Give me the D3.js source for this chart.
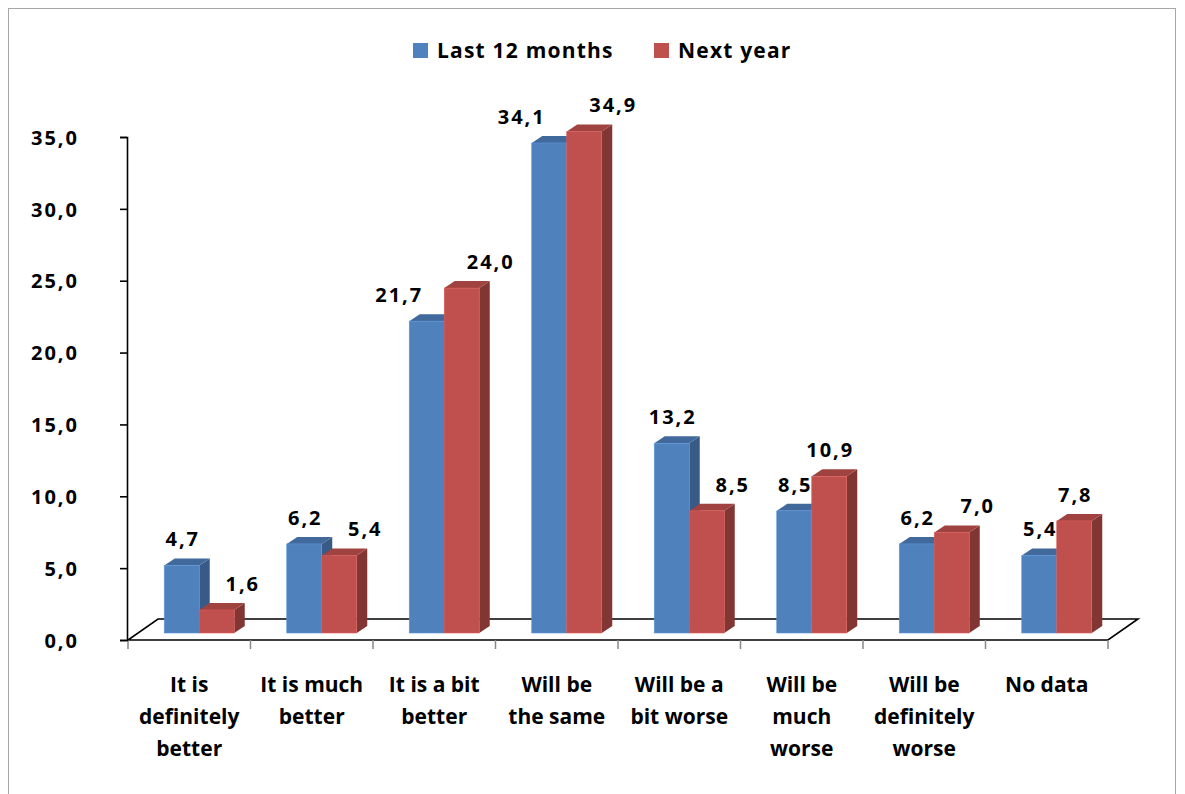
<!DOCTYPE html>
<html>
<head>
<meta charset="utf-8">
<script src="https://cdn.jsdelivr.net/npm/d3@7/dist/d3.min.js"></script>
<style>
  html, body { margin: 0; padding: 0; background: #fff; }
  svg text { font-family: "Open Sans", "DejaVu Sans", sans-serif; font-weight: 700; fill: #000; }
</style>
</head>
<body>
<svg id="chart" width="1185" height="794"></svg>
<script>
// Answers per category, in percent
const categories = [
  "It is\ndefinitely\nbetter",
  "It is much\nbetter",
  "It is a bit\nbetter",
  "Will be\nthe same",
  "Will be a\nbit worse",
  "Will be\nmuch\nworse",
  "Will be\ndefinitely\nworse",
  "No data"
];
const seriesNames = ["Last 12 months", "Next year"];
const last12Months = [4.7, 6.2, 21.7, 34.1, 13.2, 8.5, 6.2, 5.4];
const nextYear     = [1.6, 5.4, 24.0, 34.9, 8.5, 10.9, 7.0, 7.8];
const yTicks = [0, 5, 10, 15, 20, 25, 30, 35];

const palette = [
  { front: "#4F81BD", top: "#41699C", side: "#385A86" },
  { front: "#C0504D", top: "#A0423F", side: "#823634" }
];

const fmt = v => d3.format(".1f")(v).replace(".", ",");

const svg = d3.select("#chart");

// outer chart frame
svg.append("rect")
  .attr("x", 8.5).attr("y", 8.5)
  .attr("width", 1167).attr("height", 800)
  .attr("fill", "none").attr("stroke", "#a6a6a6").attr("stroke-width", 1);

// plot geometry: front floor edge and oblique depth
const x0 = 128, x1 = 1108, yBase = 640, yTop = 137;
const floorDepth = { dx: 30, dy: -21 };
const barFront = { dx: floorDepth.dx / 3, dy: floorDepth.dy / 3 };   // bars start a third of the way back
const barDepth = { dx: floorDepth.dx / 3 + 0.5, dy: floorDepth.dy / 3 };

const x = d3.scaleBand().domain(d3.range(categories.length)).range([x0, x1]).padding(0);
const y = d3.scaleLinear().domain([0, 35]).range([yBase, yTop]);
const barW = 35;

// floor (oblique parallelogram)
const floor = [
  [x0, yBase], [x1, yBase],
  [x1 + floorDepth.dx, yBase + floorDepth.dy],
  [x0 + floorDepth.dx, yBase + floorDepth.dy]
];
svg.append("polygon")
  .attr("points", floor.map(p => p.join(",")).join(" "))
  .attr("fill", "#fff").attr("stroke", "#000").attr("stroke-width", 1.6)
  .attr("stroke-linejoin", "miter");

// category axis ticks
const catTicks = d3.range(categories.length + 1).map(i => x0 + i * x.bandwidth());
svg.append("g").selectAll("line").data(catTicks).join("line")
  .attr("x1", d => d).attr("x2", d => d)
  .attr("y1", yBase).attr("y2", yBase + 9)
  .attr("stroke", "#888").attr("stroke-width", 1.5);

// value axis
const yAxis = d3.axisLeft(y).tickValues(yTicks).tickFormat(fmt).tickSize(7).tickPadding(41);
const gy = svg.append("g").attr("transform", `translate(${x0 - 1},0)`).call(yAxis);
gy.select(".domain").attr("stroke", "#000").attr("stroke-width", 1.6);
gy.selectAll(".tick line").attr("stroke", "#000").attr("stroke-width", 1.6);
gy.selectAll(".tick text")
  .attr("font-size", 20).attr("font-family", null).attr("fill", "#000")
  .attr("letter-spacing", 2)
  .attr("dy", "0.36em");

// bars
const data = [];
categories.forEach((c, i) => {
  [last12Months[i], nextYear[i]].forEach((v, s) => {
    const fl = x(i) + x.bandwidth() / 2 - barW + s * barW + barFront.dx;
    const ft = y(v) + barFront.dy;
    const fb = yBase + barFront.dy;
    data.push({ i, s, v, fl, fr: fl + barW, ft, fb });
  });
});

const bars = svg.append("g").selectAll("g").data(data).join("g");
// side face
bars.append("polygon")
  .attr("points", d => [
    [d.fr, d.fb], [d.fr, d.ft],
    [d.fr + barDepth.dx, d.ft + barDepth.dy],
    [d.fr + barDepth.dx, d.fb + barDepth.dy]
  ].map(p => p.join(",")).join(" "))
  .attr("fill", d => palette[d.s].side);
// top face
bars.append("polygon")
  .attr("points", d => [
    [d.fl, d.ft], [d.fr, d.ft],
    [d.fr + barDepth.dx, d.ft + barDepth.dy],
    [d.fl + barDepth.dx, d.ft + barDepth.dy]
  ].map(p => p.join(",")).join(" "))
  .attr("fill", d => palette[d.s].top);
// front face
bars.append("rect")
  .attr("x", d => d.fl).attr("y", d => d.ft)
  .attr("width", barW).attr("height", d => d.fb - d.ft)
  .attr("fill", d => palette[d.s].front)
  .attr("stroke", d => d3.color(palette[d.s].front).brighter(0.4))
  .attr("stroke-width", 0.6);

// value labels with simple collision handling
const labelG = svg.append("g");
const labels = data.map(d => {
  const t = labelG.append("text")
    .attr("font-size", 20)
    .attr("letter-spacing", 2)
    .attr("text-anchor", "middle")
    .text(fmt(d.v));
  const w = t.node().getComputedTextLength();
  return { d, t, w, cx: (d.fl + d.fr) / 2, base: d.ft - 19 };
});
const box = L => ({ x0: L.cx - L.w / 2, x1: L.cx + L.w / 2, y0: L.base - 17, y1: L.base + 4 });
const barBox = d => ({ x0: d.fl, x1: d.fr + barDepth.dx, y0: d.ft + barDepth.dy, y1: d.fb });
const hit = (a, b, pad) => a.x0 < b.x1 + pad && a.x1 + pad > b.x0 && a.y0 < b.y1 && a.y1 > b.y0;

for (let i = 0; i < categories.length; i++) {
  const B = labels[2 * i], R = labels[2 * i + 1];
  const blueBlocked = hit(box(B), barBox(R.d), -2);
  const redBlocked = hit(box(R), barBox(B.d), 0) || hit(box(R), box(B), 4);
  if (blueBlocked) {
    B.cx = R.d.fl - 22 - B.w / 2;
    R.cx = R.d.fr + barDepth.dx;
  } else if (redBlocked) {
    R.cx = R.d.fr + barDepth.dx - 3;
  }
}
labels.forEach(L => L.t.attr("x", L.cx + 1).attr("y", L.base));

// category labels
const catG = svg.append("g");
categories.forEach((c, i) => {
  const cx = x(i) + x.bandwidth() / 2;
  const t = catG.append("text")
    .attr("text-anchor", "middle")
    .attr("font-size", 21)
    .attr("x", cx)
    .attr("y", 692);
  c.split("\n").forEach((line, k) => {
    t.append("tspan").attr("x", cx).attr("dy", k === 0 ? 0 : 32).text(line);
  });
});

// legend
const legend = svg.append("g");
const legendX = [413, 654];
seriesNames.forEach((name, s) => {
  legend.append("rect")
    .attr("x", legendX[s]).attr("y", 43).attr("width", 15).attr("height", 15)
    .attr("fill", palette[s].front);
  legend.append("text")
    .attr("x", legendX[s] + 24).attr("y", 58)
    .attr("font-size", 21)
    .attr("letter-spacing", 1.2)
    .text(name);
});
</script>
</body>
</html>
